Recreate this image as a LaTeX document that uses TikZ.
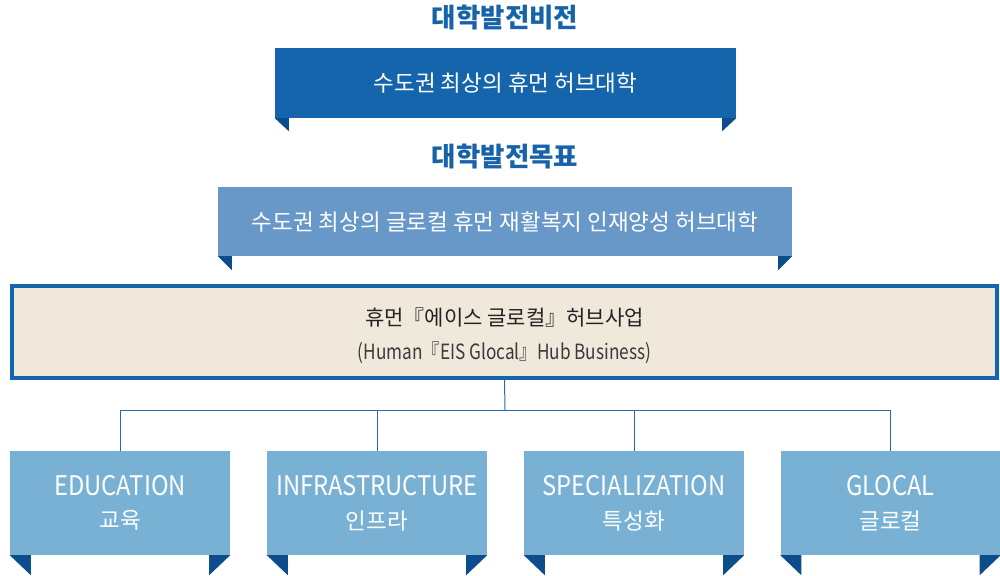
\documentclass[tikz,border=0pt]{standalone}
\usepackage{fontspec}
\setmainfont{Noto Sans CJK KR}
\newfontfamily\narrowfont{Noto Sans CJK KR}[FakeStretch=0.88]
\newfontfamily\narrowerfont{Noto Sans CJK KR}[FakeStretch=0.82]
\newcommand\latinlabel{\narrowfont\fontsize{27}{30}\selectfont}
\newcommand\korlabel{\fontsize{22.5}{26}\selectfont}
\definecolor{titleblue}{HTML}{1763A9}
\definecolor{visionblue}{HTML}{1465AB}
\definecolor{goalblue}{HTML}{6898C8}
\definecolor{hubfill}{HTML}{F1E8DC}
\definecolor{hubline}{HTML}{1465AB}
\definecolor{areablue}{HTML}{79B1D4}
\definecolor{tabblue}{HTML}{0E4D8C}
\definecolor{connblue}{HTML}{2A6AA8}
\definecolor{darktext}{HTML}{222222}
\definecolor{graytext}{HTML}{3A3A3A}
\begin{document}
\begin{tikzpicture}[x=1pt,y=-1pt,
  titletext/.style={font=\fontsize{26.5}{30}\selectfont\bfseries, text=titleblue, inner sep=0pt},
  banner/.style={inner sep=0pt, text=white, font=\fontsize{22.5}{26}\selectfont},
  hubbox/.style={draw=hubline, line width=4pt, fill=hubfill, inner sep=0pt, minimum width=985pt, minimum height=92pt, align=center},
  areabox/.style={fill=areablue, text=white, inner sep=0pt, minimum width=220pt, minimum height=104pt, align=center},
  tabfill/.style={fill=tabblue},
  conn/.style={draw=connblue, line width=1pt},
]
\useasboundingbox (0,0) rectangle (1000,575);

% Vision
\node[titletext] (visiontitle) at (505,18) {대학발전비전};
\node[banner, fill=visionblue, minimum width=461pt, minimum height=70pt] (vision) at (505.5,83) {수도권 최상의 휴먼 허브대학};
\fill[tabfill] (vision.south west) -- ++(14,0) -- ++(0,13) -- cycle;
\fill[tabfill] (vision.south east) -- ++(-14,0) -- ++(0,13) -- cycle;

% Goal
\node[titletext] (goaltitle) at (505,157) {대학발전목표};
\node[banner, fill=goalblue, minimum width=574pt, minimum height=69pt] (goal) at (505,221.5) {수도권 최상의 글로컬 휴먼 재활복지 인재양성 허브대학};
\fill[tabfill] (goal.south west) -- ++(14,0) -- ++(0,14) -- cycle;
\fill[tabfill] (goal.south east) -- ++(-14,0) -- ++(0,14) -- cycle;

% Hub business
\node[hubbox] (hub) at (504.5,332) {{\color{darktext}\fontsize{21}{24}\selectfont\rule{0pt}{25pt}휴먼『에이스 글로컬』허브사업}\\[13pt]{\color{graytext}\narrowerfont\fontsize{21}{22}\selectfont (Human『EIS Glocal』Hub Business)}};

% Areas
\node[areabox] (edu) at (120,503) {{\latinlabel EDUCATION}\\[14pt]{\korlabel 교육}};
\node[areabox] (infra) at (377,503) {{\latinlabel INFRASTRUCTURE}\\[14pt]{\korlabel 인프라}};
\node[areabox] (spec) at (634,503) {{\latinlabel SPECIALIZATION}\\[14pt]{\korlabel 특성화}};
\node[areabox] (glo) at (890.5,503) {{\latinlabel GLOCAL}\\[14pt]{\korlabel 글로컬}};
\foreach \n in {edu,infra,spec,glo}{
  \fill[tabfill] (\n.south west) -- ++(21,0) -- ++(0,20) -- cycle;
  \fill[tabfill] (\n.south east) -- ++(-21,0) -- ++(0,20) -- cycle;
}

% Connectors
\coordinate (bus) at (505,410);
\draw[conn] (hub.south) -- (bus);
\draw[conn] (bus -| edu.north) -- (bus -| glo.north);
\foreach \n in {edu,infra,spec,glo}{
  \draw[conn] (\n.north) -- (\n.north |- bus);
}
\end{tikzpicture}
\end{document}
